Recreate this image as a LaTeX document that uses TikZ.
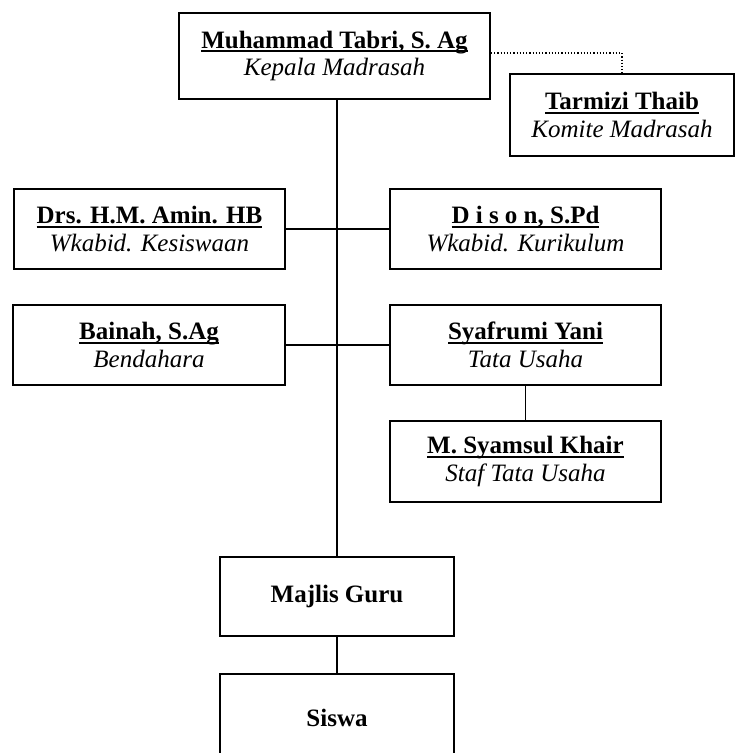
\documentclass[tikz,border=0pt]{standalone}
\usepackage{fontspec}
\setmainfont{Liberation Serif}

\newcommand{\garis}[1]{\setbox0=\hbox{#1}\rlap{\rule[-4pt]{\wd0}{1.8pt}}\box0}

\tikzset{
    kotak/.style={draw, line width=1.8pt, inner sep=0pt, align=center,
        font=\fontsize{25}{27.5}\selectfont},
    hubung/.style={line width=1.5pt},
    putus/.style={line width=1.2pt, dotted}
}

\begin{document}
\begin{tikzpicture}[x=1pt,y=-1pt]
    \useasboundingbox[fill=white] (0,0) rectangle (736,753);
    \path node[kotak, minimum width=311pt, minimum height=86pt] (kepala) at (334.5,56)
            {\textbf{\garis{Muhammad Tabri, S. Ag}}\\\textit{Kepala Madrasah}}
        node[kotak, minimum width=224pt, minimum height=82pt] (komite) at (622,115)
            {\textbf{\garis{Tarmizi Thaib}}\\\textit{Komite Madrasah}}
        node[kotak, minimum width=271pt, minimum height=80pt] (kesiswaan) at (149.5,229)
            {\textbf{\garis{Drs. H.M. Amin. HB}}\\\textit{Wkabid. Kesiswaan}}
        node[kotak, minimum width=271pt, minimum height=80pt] (kurikulum) at (525.5,229)
            {\textbf{\garis{D i s o n, S.Pd}}\\\textit{Wkabid. Kurikulum}}
        node[kotak, minimum width=272pt, minimum height=80pt] (bendahara) at (149,345)
            {\textbf{\garis{Bainah, S.Ag}}\\\textit{Bendahara}}
        node[kotak, minimum width=271pt, minimum height=80pt] (tatausaha) at (525.5,345)
            {\textbf{\garis{Syafrumi Yani}}\\\textit{Tata Usaha}}
        node[kotak, minimum width=271pt, minimum height=81pt] (staf) at (525.5,461.5)
            {\textbf{\garis{M. Syamsul Khair}}\\\textit{Staf Tata Usaha}}
        node[kotak, minimum width=234pt, minimum height=79pt] (majlis) at (337,596.5)
            {\textbf{Majlis Guru}}
        node[kotak, minimum width=234pt, minimum height=88pt] (siswa) at (337,718)
            {\textbf{Siswa}};
    \draw[hubung] (kepala.south -| majlis.north) -- (majlis.north);
    \draw[hubung] (kesiswaan.east) -- (kurikulum.west);
    \draw[hubung] (bendahara.east) -- (tatausaha.west);
    \draw[hubung] (tatausaha.south) -- (staf.north);
    \draw[hubung] (majlis.south) -- (siswa.north);
    \draw[putus] ([yshift=3pt]kepala.east) -| (komite.north);
\end{tikzpicture}
\end{document}
